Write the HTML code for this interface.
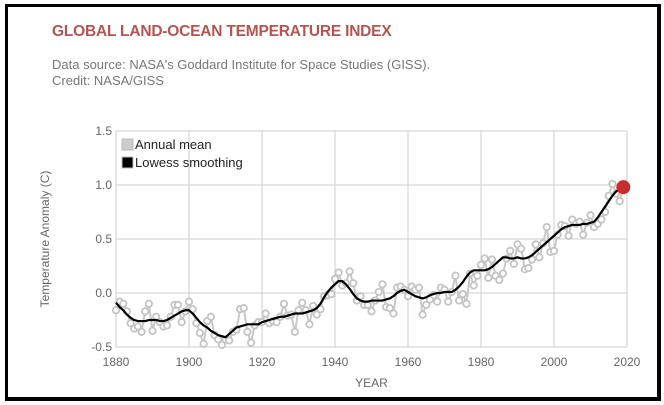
<!DOCTYPE html>
<html><head><meta charset="utf-8"><style>
body{margin:0;width:664px;height:405px;background:#fff;overflow:hidden;font-family:"Liberation Sans",Arial,sans-serif}
#frame{position:absolute;left:5px;top:4px;width:649px;height:390px;border:3px solid #000;border-right-width:4px;border-bottom-width:4px}
#title{position:absolute;left:52px;top:23px;font-size:15.5px;font-weight:bold;color:#b5554d;letter-spacing:-0.2px}
.sub{position:absolute;left:52px;font-size:13px;color:#777}
</style></head><body>
<div id="frame"></div>
<div id="title">GLOBAL LAND-OCEAN TEMPERATURE INDEX</div>
<div class="sub" style="top:57px">Data source: NASA's Goddard Institute for Space Studies (GISS).</div>
<div class="sub" style="top:73px">Credit: NASA/GISS</div>
<svg id="chart" width="664" height="405" style="position:absolute;left:0;top:0"></svg>
<script>
const startYear = 1880;
const annualMean = [-.16,-.08,-.10,-.17,-.28,-.33,-.31,-.36,-.17,-.10,-.35,-.22,-.27,-.31,-.30,-.22,-.11,-.11,-.27,-.17,-.08,-.15,-.28,-.37,-.47,-.26,-.22,-.39,-.43,-.48,-.43,-.44,-.36,-.34,-.15,-.14,-.36,-.46,-.30,-.27,-.27,-.19,-.28,-.26,-.27,-.22,-.10,-.21,-.20,-.36,-.16,-.09,-.16,-.29,-.12,-.20,-.15,-.03,-.02,-.01,.13,.19,.07,.09,.20,.09,-.07,-.03,-.11,-.11,-.17,-.07,.01,.08,-.13,-.14,-.19,.05,.06,.03,-.03,.06,.03,.05,-.20,-.11,-.06,-.02,-.08,.05,.03,-.08,.01,.16,-.07,-.01,-.10,.18,.07,.16,.26,.32,.14,.31,.16,.12,.18,.32,.39,.27,.45,.41,.22,.23,.31,.45,.33,.46,.61,.38,.39,.54,.63,.62,.53,.68,.64,.66,.54,.65,.72,.61,.64,.68,.75,.90,1.01,.92,.85,.98];
const lowess = [-.09,-.13,-.16,-.20,-.23,-.25,-.26,-.26,-.26,-.25,-.25,-.25,-.26,-.26,-.25,-.23,-.21,-.19,-.17,-.16,-.16,-.19,-.23,-.27,-.30,-.32,-.35,-.37,-.39,-.40,-.41,-.38,-.35,-.32,-.31,-.30,-.29,-.29,-.29,-.29,-.27,-.26,-.25,-.24,-.23,-.22,-.22,-.21,-.20,-.19,-.19,-.19,-.18,-.17,-.16,-.14,-.10,-.04,.01,.05,.08,.11,.11,.08,.04,-.01,-.05,-.07,-.08,-.08,-.07,-.07,-.07,-.07,-.06,-.05,-.03,0,.02,.03,.01,-.01,-.03,-.04,-.05,-.04,-.02,-.01,0,0,.01,.01,.01,.03,.06,.10,.15,.19,.21,.21,.21,.21,.22,.24,.27,.30,.33,.33,.32,.32,.33,.32,.32,.33,.35,.38,.41,.44,.47,.50,.53,.56,.59,.61,.62,.63,.63,.63,.64,.64,.65,.66,.70,.75,.80,.85,.90,.94,.96,.98];
const xTicks = [1880,1900,1920,1940,1960,1980,2000,2020];
const yTicks = [-0.5,0.0,0.5,1.0,1.5];
const yTickLabels = ["-0.5","0.0","0.5","1.0","1.5"];

const svg = document.getElementById('chart');
const NS = 'http://www.w3.org/2000/svg';
const X = y => 116 + (y - 1880) * (511 / 140);
const Y = v => 293 - v * 108;
function mk(tag, attrs, parent){const e=document.createElementNS(NS,tag);for(const k in attrs)e.setAttribute(k,attrs[k]);(parent||svg).appendChild(e);return e;}

xTicks.forEach(t=>{
  const l=mk('line',{x1:X(t),x2:X(t),y1:Y(1.5),y2:Y(-0.5),stroke:'#ccc','stroke-width':1});
  
  
  const tx=mk('text',{x:X(t),y:Y(-0.5)+19,'text-anchor':'middle','font-size':12,fill:'#666'});
  tx.textContent=t;
  
  
});
yTicks.forEach((t,i)=>{
  const l=mk('line',{x1:X(1880),x2:X(2020),y1:Y(t),y2:Y(t),stroke:'#ccc','stroke-width':1});
  
  
  const tx=mk('text',{x:X(1880)-4,y:Y(t)+4,'text-anchor':'end','font-size':12,fill:'#666'});
  tx.textContent=yTickLabels[i];
  
  
});
const xt=mk('text',{x:X(1950),y:387,'text-anchor':'middle','font-size':12,fill:'#666'});
xt.textContent='YEAR';


const yt=mk('text',{x:0,y:0,'text-anchor':'middle','font-size':12,fill:'#666',transform:'translate(49,'+Y(0.5)+') rotate(-90)'});
yt.textContent='Temperature Anomaly (C)';



const ap=mk('polyline',{points:annualMean.map((v,i)=>X(startYear+i)+','+Y(v)).join(' '),fill:'none',stroke:'#c8c8c8','stroke-width':2});


annualMean.forEach((v,i)=>{
  const c=mk('circle',{cx:X(startYear+i),cy:Y(v),r:3.2,fill:'#fff',stroke:'#c4c4c4','stroke-width':1.8});
  
  
});
const lp=mk('polyline',{points:lowess.map((v,i)=>X(startYear+i)+','+Y(v)).join(' '),fill:'none',stroke:'#000','stroke-width':2.2,'stroke-linejoin':'round'});


const last=lowess.length-1;
const rd=mk('circle',{cx:X(startYear+last),cy:Y(lowess[last]),r:7,fill:'#c62d2d'});



const lg=mk('g',{});


const s1=mk('rect',{x:122,y:139,width:11,height:11,fill:'#ccc',stroke:'#bbb'},lg);


const t1=mk('text',{x:135,y:149,'font-size':13,fill:'#222'},lg);
t1.textContent='Annual mean';


const s2=mk('rect',{x:122,y:157,width:11,height:11,fill:'#000',stroke:'#bbb'},lg);


const t2=mk('text',{x:135,y:167,'font-size':13,fill:'#222'},lg);
t2.textContent='Lowess smoothing';


</script>
</body></html>
